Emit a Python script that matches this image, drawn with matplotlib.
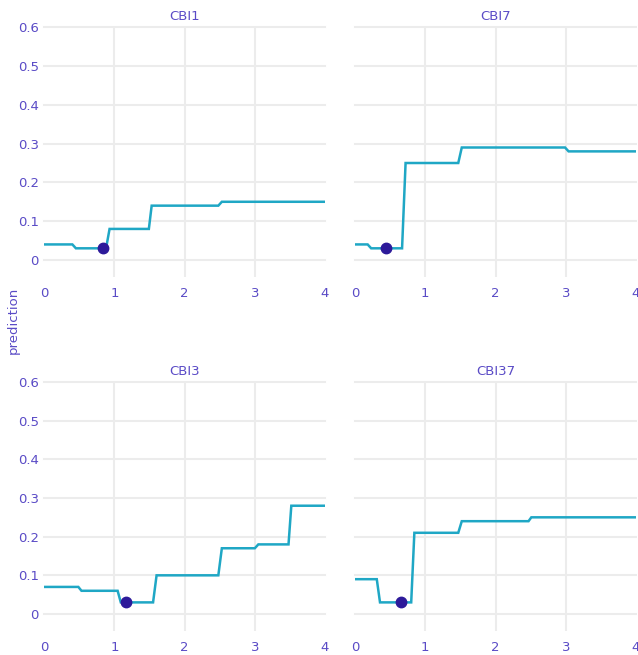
import matplotlib
matplotlib.use("Agg")
import matplotlib.pyplot as plt

# Ceteris-paribus profiles: predicted value as each variable varies
titles = ["CBI1", "CBI7", "CBI3", "CBI37"]

cbi1_x = [0, 0.40, 0.45, 0.88, 0.93, 1.49, 1.53, 2.48, 2.53, 4]
cbi1_y = [0.04, 0.04, 0.03, 0.03, 0.08, 0.08, 0.14, 0.14, 0.15, 0.15]

cbi7_x = [0, 0.18, 0.23, 0.67, 0.72, 1.47, 1.52, 2.99, 3.04, 4]
cbi7_y = [0.04, 0.04, 0.03, 0.03, 0.25, 0.25, 0.29, 0.29, 0.28, 0.28]

cbi3_x = [0, 0.485, 0.53, 1.045, 1.09, 1.55, 1.60, 2.48, 2.53, 3.0, 3.05, 3.48, 3.52, 4]
cbi3_y = [0.07, 0.07, 0.06, 0.06, 0.03, 0.03, 0.10, 0.10, 0.17, 0.17, 0.18, 0.18, 0.28, 0.28]

cbi37_x = [0, 0.31, 0.356, 0.80, 0.845, 1.47, 1.52, 2.47, 2.51, 4]
cbi37_y = [0.09, 0.09, 0.03, 0.03, 0.21, 0.21, 0.24, 0.24, 0.25, 0.25]

# observed instance for each variable
obs_x = [0.84, 0.44, 1.16, 0.65]
obs_y = [0.03, 0.03, 0.03, 0.03]

x_ticks = [0, 1, 2, 3, 4]
y_ticks = [0, 0.1, 0.2, 0.3, 0.4, 0.5, 0.6]
y_ticklabels = ["0", "0.1", "0.2", "0.3", "0.4", "0.5", "0.6"]

profiles_x = [cbi1_x, cbi7_x, cbi3_x, cbi37_x]
profiles_y = [cbi1_y, cbi7_y, cbi3_y, cbi37_y]

TEXT = "#5a4bc6"
LINE = "#1fa7c5"
POINT = "#2d1a9a"
GRID = "#ececec"
FS = 9.5

W, H = 638, 655
fig = plt.figure(figsize=(W / 100, H / 100), dpi=100)

# axes boxes in pixels: (left, top, right, bottom)
boxes = [
    (44.3, 27.3, 325, 277),
    (355, 27.3, 636, 277),
    (44.3, 382, 325, 631),
    (355, 382, 636, 631),
]

for i, (l, t, r, b) in enumerate(boxes):
    ax = fig.add_axes([l / W, 1 - b / H, (r - l) / W, (b - t) / H])
    ax.set_xlim(0, 4)
    ax.set_ylim(-0.044, 0.6)
    for s in ax.spines.values():
        s.set_visible(False)
    ax.set_xticks(x_ticks)
    ax.set_yticks(y_ticks)
    ax.set_yticklabels(y_ticklabels)
    ax.tick_params(length=0, colors=TEXT, labelsize=FS)
    ax.tick_params(axis="x", pad=7)
    ax.tick_params(axis="y", pad=4)
    if i % 2 == 1:
        ax.tick_params(axis="y", labelleft=False)
    for yv in y_ticks:
        ax.axhline(yv, color=GRID, lw=1.5, zorder=0, clip_on=False)
    for xv in x_ticks[1:-1]:
        ax.axvline(xv, color=GRID, lw=1.5, zorder=0)
    ax.plot(profiles_x[i], profiles_y[i], color=LINE, lw=1.8, zorder=2,
            solid_joinstyle="miter")
    ax.plot([obs_x[i]], [obs_y[i]], "o", color=POINT, ms=7.5, zorder=3)
    ax.set_title(titles[i], color=TEXT, fontsize=FS, pad=5)

fig.text(13 / W, 1 - 320 / H, "prediction", rotation=90, color=TEXT,
         fontsize=FS, ha="center", va="center")

fig.savefig("out.png", dpi=100, facecolor="white")
